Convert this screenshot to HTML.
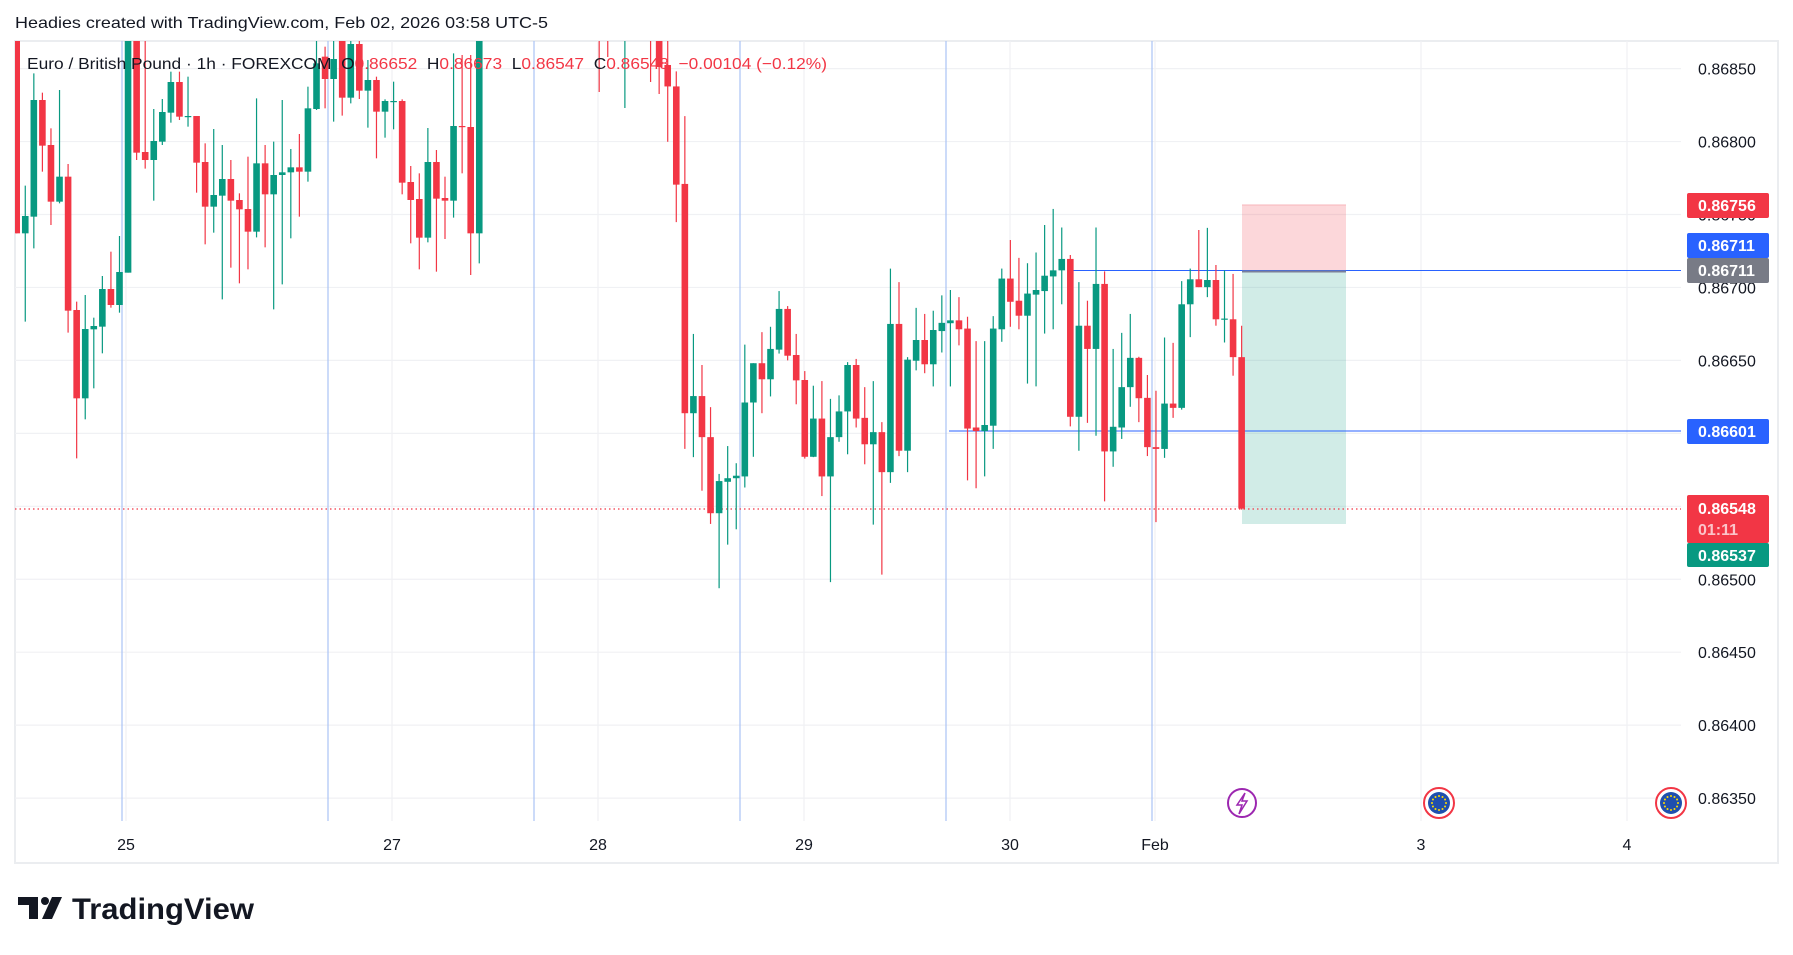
<!DOCTYPE html>
<html><head><meta charset="utf-8">
<style>
html,body{margin:0;padding:0;background:#fff;}
svg{display:block;font-family:"Liberation Sans",sans-serif;}
</style></head>
<body>
<svg id="s" width="1793" height="955" viewBox="0 0 1793 955" xmlns="http://www.w3.org/2000/svg">
<rect width="1793" height="955" fill="#fff"/>
<text x="15" y="28" font-size="16" fill="#131722" textLength="533" lengthAdjust="spacingAndGlyphs">Headies created with TradingView.com, Feb 02, 2026 03:58 UTC-5</text>
<rect x="15" y="41" width="1763" height="822" fill="none" stroke="#ebedf0" stroke-width="2"/>
<g id="grid"></g>
<g id="cand" clip-path="url(#cp)"></g>
<defs><clipPath id="cp"><rect x="15" y="41" width="1666" height="780"/></clipPath></defs>
<g id="over"></g>
</svg>
<script>
const NS="http://www.w3.org/2000/svg";
function el(p,t,a,txt){const e=document.createElementNS(NS,t);for(const k in a)e.setAttribute(k,a[k]);if(txt!==undefined)e.textContent=txt;document.getElementById(p).appendChild(e);return e;}
const Y=p=>68.6+(0.8685-p)*145900;
const lv=[0.8685,0.868,0.8675,0.867,0.8665,0.866,0.8655,0.865,0.8645,0.864,0.8635];
lv.forEach(p=>el('grid','line',{x1:15,x2:1681,y1:Y(p),y2:Y(p),stroke:'#f0f1f4','stroke-width':1.2}));
[126,392,598,804,1010,1155,1421,1627].forEach(x=>el('grid','line',{x1:x,x2:x,y1:41,y2:821,stroke:'#f0f1f4','stroke-width':1.2}));
[122,328,534,740,946,1152].forEach(x=>el('grid','line',{x1:x,x2:x,y1:41,y2:821,stroke:'#aac3f5','stroke-width':1.2}));
[["25",126],["27",392],["28",598],["29",804],["30",1010],["Feb",1155],["3",1421],["4",1627]].forEach(([t,x])=>el('grid','text',{x:x,y:850,'font-size':16,fill:'#131722','text-anchor':'middle'},t));
lv.forEach(p=>el('grid','text',{x:1698,y:Y(p)+6,'font-size':16,fill:'#131722'},p.toFixed(5)));
el('grid','rect',{x:1242,y:205,width:104,height:66,fill:'#f23645','fill-opacity':0.2});
el('grid','rect',{x:1242,y:271,width:104,height:253,fill:'#089981','fill-opacity':0.19});
el('grid','line',{x1:1242,x2:1346,y1:205,y2:205,stroke:'#f7b5bb','stroke-width':1});
el('grid','line',{x1:1070,x2:1681,y1:270.5,y2:270.5,stroke:'#2962ff','stroke-width':1});
el('grid','line',{x1:949,x2:1681,y1:431,y2:431,stroke:'#2962ff','stroke-width':1});
el('grid','line',{x1:1242,x2:1346,y1:271.5,y2:271.5,stroke:'#7a7f9a','stroke-width':2});
el('grid','line',{x1:15,x2:1681,y1:509,y2:509,stroke:'#f23645','stroke-width':1.2,'stroke-dasharray':'1.5 3'});
const G='#089981',R='#f23645';
const cands=[];
const A=[
['r',-300,580,-300,580],['g',528,580,437,845],['g',180,530,100,625],['r',180,317,158,395],['r',315,485,265,555],
['g',410,485,150,490],['r',410,812,372,878],['r',810,1075,785,1255],['g',867,1075,765,1138],['g',858,868,833,1045],
['g',747,860,708,940],['r',747,795,635,803],['g',696,795,588,818],['g',-300,698,-300,698],['r',-300,338,-300,360],
['r',336,360,-300,386],['g',303,360,207,482],['g',216,305,177,315],['g',126,218,95,248],['r',126,230,95,240],
['g',228,231,110,260],['r',228,368,228,458],['r',366,500,310,613],['g',465,500,267,578],['g',417,467,315,778],
['r',417,482,360,683],['r',480,508,460,730],['r',507,575,350,688],['g',370,575,175,592],['r',370,463,315,622],
['g',405,463,305,808],['g',397,405,180,733],['g',382,397,327,595],['r',382,395,282,530],['g',205,395,140,425],
['g',70,207,-300,210],['r',50,117,20,205],['g',57,117,-300,245],['r',-300,173,-300,227],['g',12,173,-300,190],
['r',12,152,-300,177],['g',120,152,60,263],['r',120,215,110,355],['g',183,215,178,293],['g',183,185,125,268],
['r',183,428,178,463],['r',426,480,378,610],['r',477,593,400,688],['g',366,593,264,607],['r',366,476,330,695],
['r',474,482,410,597],['g',258,482,40,533],['r',258,261,45,400],['r',261,580,45,705],['g',-300,580,-300,670]];
A.forEach(c=>cands.push([c[0],...c.slice(1).map(v=>40+v/3)]));
for(let i=55;i<=75;i++){let c=['g',-100,-60,-120,-40];
 if(i==68)c=['r',-100,-60,-120,92];if(i==69)c=['r',-100,-60,-120,57];if(i==71)c=['g',-100,-60,-120,108];
 if(i==74)c=['r',-100,-60,-120,82];if(i==75)c=['r',-100,67,-120,94];cands.push(c);}
const C=[
['r',70,130,0,285],['r',130,405,88,510],['r',403,1045,213,1145],['g',997,1045,823,1168],['r',997,1112,910,1262],
['r',1112,1325,1028,1355],['g',1235,1325,1215,1535],['g',1227,1237,1137,1413],['g',1220,1227,1185,1370],['g',1015,1222,853,1253],
['g',905,1015,905,1167],['r',905,950,818,1045],['g',865,950,803,998],['g',753,867,703,878],['r',753,884,745,897],
['r',882,953,823,1020],['r',952,1167,927,1172],['g',1060,1167,968,1168],['r',1060,1222,955,1277],['g',1112,1222,1005,1518],
['g',1040,1112,995,1125],['g',910,1040,902,1160],['r',910,1060,893,1085],['r',1058,1132,972,1188],['g',1098,1132,955,1357],
['r',1098,1210,1070,1497],['g',795,1210,640,1240],['r',795,1150,678,1165],['g',895,1150,888,1210],['g',840,898,750,925],
['r',840,908,767,933],['g',812,908,758,970],['g',792,815,715,875],['g',785,793,700,970],['r',785,810,720,855],
['r',808,1088,775,1233],['r',1085,1095,843,1255],['g',1078,1095,843,1222],['g',808,1080,773,1145],['g',668,810,640,845],
['r',668,733,560,803],['r',730,772,610,810],['g',710,772,625,962],['g',700,713,595,970],['g',660,703,518,822],
['g',645,662,473,810],['g',613,645,525,740],['r',613,1055,602,1082],['g',800,1055,678,1150],['r',800,865,730,1072],
['g',683,865,525,1108],['r',683,1152,648,1292],['g',1083,1152,865,1195],['g',972,1085,820,1117],['g',890,972,767,1027],
['r',890,1003,887,1070],['r',1002,1140,938,1165],['r',1140,1145,982,1350],['g',1018,1145,833,1170],['r',1018,1030,848,1058],
['g',740,1030,675,1035],['g',670,740,640,832],['r',670,692,532,692],['g',672,692,526,720],['r',672,782,630,800],
['g',780,782,645,847],['r',782,888,655,940],['r',888,1312,800,1315]];
C.forEach(c=>cands.push([c[0],...c.slice(1).map(v=>40+v/2.8)]));
cands.forEach((c,i)=>{const x=16.7+i*8.566;const col=c[0]=='g'?G:R;
 el('cand','line',{x1:x,x2:x,y1:c[3],y2:c[4],stroke:col,'stroke-width':1.2});
 el('cand','rect',{x:x-3.3,y:c[1],width:6.6,height:Math.max(1.2,c[2]-c[1]),fill:col});});
const lg=el('over','text',{x:27,y:69,'font-size':16,fill:'#131722',textLength:800,lengthAdjust:'spacingAndGlyphs'});
lg.setAttributeNS('http://www.w3.org/XML/1998/namespace','xml:space','preserve');
[["Euro / British Pound · 1h · FOREXCOM  O",'#131722'],["0.86652",R],["  H",'#131722'],["0.86673",R],["  L",'#131722'],["0.86547",R],["  C",'#131722'],["0.86548",R],["  −0.00104 (−0.12%)",R]].forEach(([t,c])=>{const s=document.createElementNS(NS,'tspan');s.setAttribute('fill',c);s.textContent=t;lg.appendChild(s);});
function badge(y,h,col,txt,tc){el('over','rect',{x:1687,y:y,width:82,height:h,rx:2,fill:col});el('over','text',{x:1698,y:y+18,'font-size':16,'font-weight':'bold',fill:tc||'#fff'},txt);}
badge(193,25,R,'0.86756');badge(233,25,'#2962ff','0.86711');badge(258,25,'#787b86','0.86711');
badge(419,25,'#2962ff','0.86601');
el('over','rect',{x:1687,y:495,width:82,height:48,rx:2,fill:R});
el('over','text',{x:1698,y:514,'font-size':16,'font-weight':'bold',fill:'#fff'},'0.86548');
el('over','text',{x:1698,y:535,'font-size':16,'font-weight':'bold',fill:'#fbc4c9'},'01:11');
badge(543,24,G,'0.86537');
el('over','circle',{cx:1242,cy:803,r:14,fill:'#fff',stroke:'#9c27b0','stroke-width':2});
el('over','path',{d:'M1245 793 L1237 805 L1242 805 L1239 814 L1247 801 L1242 801 Z',fill:'none',stroke:'#9c27b0','stroke-width':1.5});
[1439,1671].forEach(x=>{el('over','circle',{cx:x,cy:803,r:15,fill:'#fff',stroke:R,'stroke-width':2});el('over','circle',{cx:x,cy:803,r:11,fill:'#1f4fae'});
 for(let k=0;k<12;k++){const a=k*Math.PI/6;el('over','circle',{cx:x+7*Math.cos(a),cy:803+7*Math.sin(a),r:1,fill:'#ffdd00'});}});
el('over','path',{d:'M18 897 H38 V919 H29 V905 H18 Z',fill:'#131722'});
el('over','circle',{cx:45,cy:901,r:4,fill:'#131722'});
el('over','path',{d:'M52 897 H62 L52 919 H42 Z',fill:'#131722'});
el('over','text',{x:72,y:919,'font-size':30,'font-weight':'bold',fill:'#131722',textLength:182,lengthAdjust:'spacingAndGlyphs'},'TradingView');
</script>
</body></html>
